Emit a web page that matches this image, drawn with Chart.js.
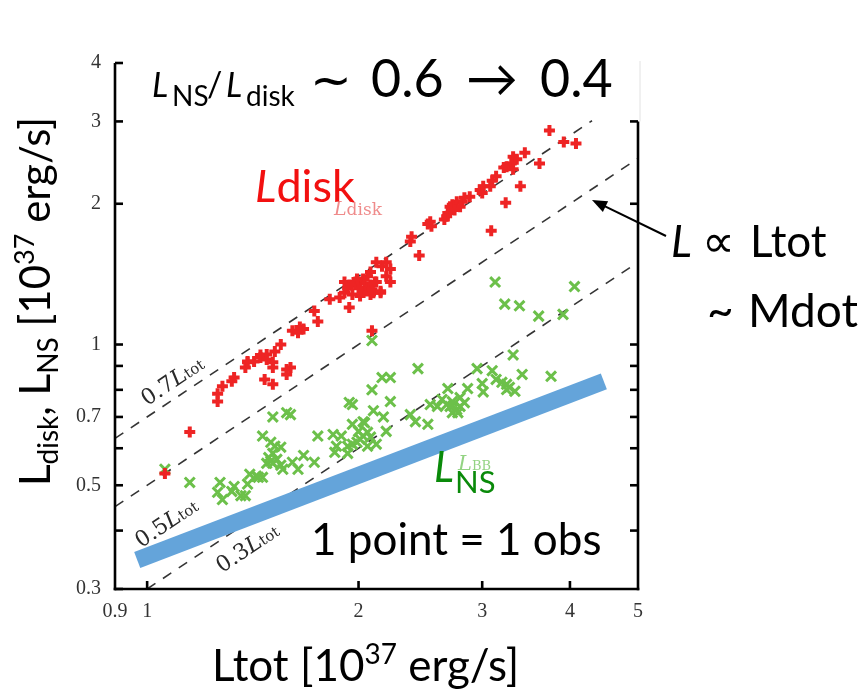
<!DOCTYPE html>
<html>
<head>
<meta charset="utf-8">
<script src="https://cdn.jsdelivr.net/npm/chart.js@4.4.0/dist/chart.umd.min.js"></script>
<style>
  html, body { margin: 0; padding: 0; background: #fff; }
  #wrap { width: 867px; height: 689px; }
</style>
</head>
<body>
<div id="wrap"><canvas id="plot"></canvas></div>
<script>
// disk luminosity vs total luminosity, one point per observation [1e37 erg/s]
const diskPoints = [
  [1.06,0.53],[1.15,0.65],
  [1.26,0.755],[1.26,0.785],[1.28,0.814],[1.32,0.834],[1.33,0.85],
  [1.38,0.893],[1.39,0.916],[1.39,0.92],
  [1.42,0.92],[1.45,0.938],[1.45,0.95],[1.48,0.952],[1.48,0.929],[1.51,0.916],[1.51,0.893],
  [1.52,0.966],[1.55,1.0],[1.47,0.842],[1.51,0.822],
  [1.58,0.884],[1.6,0.893],[1.58,0.863],
  [1.61,1.07],[1.64,1.06],[1.65,1.09],[1.67,1.08],
  [1.73,1.18],[1.75,1.12],
  [1.82,1.25],[1.88,1.26],[1.94,1.2],[1.91,1.29],
  [2.03,1.30],[2.1,1.29],[2.15,1.29],[2.09,1.07],
  [1.91,1.36],[1.94,1.34],[1.98,1.36],[2.01,1.36],[2.04,1.35],[2.08,1.34],[2.11,1.36],
  [1.93,1.32],[2.0,1.32],[2.07,1.32],[2.22,1.36],
  [2.19,1.50],[2.16,1.47],[2.12,1.50],[2.22,1.45],[2.19,1.40],[2.08,1.43],[2.06,1.40],
  [2.03,1.38],[1.99,1.38],[2.12,1.36],[2.09,1.31],[2.15,1.30],[2.08,1.28],[2.01,1.27],[1.96,1.28],
  [2.44,1.55],[2.38,1.70],[2.37,1.66],
  [2.53,1.83],[2.54,1.79],[2.51,1.81],
  [2.88,2.07],[2.83,2.06],[2.81,2.02],[2.76,2.02],[2.72,1.99],[2.70,1.97],[2.68,1.91],
  [2.67,1.88],[2.65,1.85],[2.79,1.97],[2.74,1.94],
  [3.09,1.75],[3.24,2.01],[3.4,2.18],
  [3.14,2.29],[3.10,2.24],[3.08,2.18],[3.01,2.18],[2.98,2.14],[3.0,2.11],
  [3.62,2.44],
  [3.45,2.57],[3.32,2.52],[3.36,2.49],[3.25,2.4],[3.30,2.44],[3.22,2.39],[3.32,2.37],
  [3.74,2.87],[3.92,2.71],[4.08,2.69]
];

// neutron star (blackbody) luminosity vs total luminosity
const nsPoints = [
  [1.06,0.541],[1.15,0.507],
  [1.27,0.507],[1.26,0.483],[1.28,0.466],[1.33,0.497],[1.32,0.485],[1.36,0.475],[1.38,0.475],[1.39,0.503],
  [1.40,0.528],[1.43,0.523],[1.46,0.52],[1.44,0.52],
  [1.46,0.637],[1.50,0.618],[1.52,0.606],[1.55,0.603],[1.51,0.585],[1.49,0.573],[1.53,0.568],
  [1.50,0.563],[1.51,0.557],[1.55,0.552],[1.48,0.557],[1.56,0.541],
  [1.51,0.70],[1.58,0.715],[1.60,0.708],
  [1.61,0.56],[1.64,0.541],[1.67,0.579],[1.73,0.56],[1.75,0.637],
  [1.84,0.642],[1.89,0.637],[1.86,0.606],[1.85,0.588],[1.93,0.585],
  [1.94,0.752],[1.96,0.744],
  [1.96,0.675],[2.03,0.684],[2.0,0.652],[2.06,0.649],[2.03,0.637],[2.08,0.634],[1.99,0.618],
  [1.96,0.612],[2.06,0.606],[1.93,0.606],[2.04,0.68],[2.01,0.627],
  [2.09,0.80],[2.16,0.85],[2.22,0.85],
  [2.22,0.755],[2.10,0.722],[2.17,0.70],[2.19,0.652],[2.12,0.612],
  [2.09,1.02],
  [2.37,0.708],[2.41,0.684],[2.51,0.675],[2.43,0.888],
  [2.53,0.744],[2.59,0.737],[2.63,0.763],[2.67,0.744],[2.70,0.737],[2.72,0.755],[2.76,0.726],
  [2.79,0.737],[2.83,0.751],[2.72,0.715],[2.77,0.715],
  [2.68,0.805],[2.86,0.805],[2.79,0.77],
  [2.95,0.888],[3.0,0.825],[3.01,0.792],[3.10,0.879],[3.14,0.842],[3.2,0.83],[3.25,0.822],
  [3.28,0.81],[3.34,0.794],[3.25,0.801],
  [3.42,0.863],[3.76,0.855],[3.32,0.95],
  [3.13,1.36],[3.23,1.22],[3.39,1.21],[3.61,1.15],[3.91,1.16],[4.06,1.33]
];

// constant-fraction reference lines L = k * Ltot and their Ltot extent
const ratios = [0.7, 0.5, 0.3];
const ratioSpans = [[0.9, 4.3], [0.9, 5], [1, 5]];

// the NS trend band
const trendLtot = [0.968, 4.47];
const trendL = [0.346, 0.834];

// axes
const xTicks = [0.9, 1, 2, 3, 4, 5];
const bottomTicks = [1, 2, 3, 4];
const yTicks = [0.3, 0.4, 0.5, 0.6, 0.7, 0.8, 0.9, 1, 2, 3, 4];
const yTickLabels = [0.3, 0.5, 0.7, 1, 2, 3, 4];
const rightTicks = [0.4, 0.5, 0.6, 0.7, 0.8, 0.9, 1, 2, 3];

const toXY = pts => pts.map(p => ({ x: p[0], y: p[1] }));

function runs(ctx, x, y, parts) {
  let cx = x;
  for (const p of parts) {
    ctx.font = p.font;
    ctx.fillStyle = p.color || '#000';
    ctx.fillText(p.t, cx, y + (p.dy || 0));
    cx += ctx.measureText(p.t).width;
  }
  return cx - x;
}

function runsWidth(ctx, parts) {
  let w = 0;
  for (const p of parts) { ctx.font = p.font; w += ctx.measureText(p.t).width; }
  return w;
}

function seg(ctx, x1, y1, x2, y2) {
  ctx.beginPath(); ctx.moveTo(x1, y1); ctx.lineTo(x2, y2); ctx.stroke();
}

const SANS = 'Lato, "DejaVu Sans"';
const SERIF = '"DejaVu Serif"';

const decorations = {
  id: 'decorations',
  beforeDraw(chart) {
    const ctx = chart.ctx;
    ctx.save();
    ctx.fillStyle = '#fff';
    ctx.fillRect(0, 0, chart.width, chart.height);
    ctx.restore();
  },
  afterDraw(chart) {
    const ctx = chart.ctx;
    const { left, right, top, bottom } = chart.chartArea;
    const xs = chart.scales.x, ys = chart.scales.y;
    ctx.save();

    // frame: left, bottom, right (right side only up to 3)
    ctx.strokeStyle = '#000';
    ctx.lineWidth = 2.6;
    ctx.lineCap = 'butt';
    const r3 = ys.getPixelForValue(3);
    seg(ctx, left, top, left, bottom + 1.3);
    seg(ctx, left - 1.3, bottom, right + 1.3, bottom);
    seg(ctx, right, r3, right, bottom + 1.3);
    yTicks.forEach(v => { const py = ys.getPixelForValue(v); seg(ctx, left, py, left + 8, py); });
    rightTicks.forEach(v => { const py = ys.getPixelForValue(v); seg(ctx, right, py, right - 8, py); });
    bottomTicks.forEach(v => { const px = xs.getPixelForValue(v); seg(ctx, px, bottom, px, bottom - 8); });
    ctx.strokeStyle = '#e2e2e2';
    ctx.lineWidth = 1;
    seg(ctx, right + 2, top - 2, right + 2, r3);

    // labels on the reference lines, rotated along them
    const ang = Math.atan2(ys.getPixelForValue(2) - ys.getPixelForValue(1),
                           xs.getPixelForValue(2) - xs.getPixelForValue(1));
    const lineLabels = [
      { k: '0.7', cx: 172, cy: 380 },
      { k: '0.5', cx: 166, cy: 522 },
      { k: '0.3', cx: 247, cy: 547 }
    ];
    lineLabels.forEach(l => {
      const parts = [
        { t: l.k, font: '22px ' + SERIF, color: '#2a2a2a' },
        { t: 'L', font: 'italic 22px ' + SERIF, color: '#2a2a2a' },
        { t: 'tot', font: '15px ' + SERIF, color: '#2a2a2a' }
      ];
      ctx.save();
      ctx.translate(l.cx, l.cy);
      ctx.rotate(ang);
      ctx.textBaseline = 'alphabetic';
      runs(ctx, -runsWidth(ctx, parts) / 2, 8, parts);
      ctx.restore();
    });

    ctx.textBaseline = 'alphabetic';
    ctx.textAlign = 'left';

    // headline ratio
    ctx.fillStyle = '#000';
    ctx.font = 'italic 34px ' + SANS; ctx.fillText('L', 152, 97);
    ctx.font = '28px ' + SANS; ctx.fillText('NS', 172, 106);
    ctx.font = '34px ' + SANS; ctx.fillText('/', 207, 97);
    ctx.font = 'italic 34px ' + SANS; ctx.fillText('L', 226, 97);
    ctx.font = '28px ' + SANS; ctx.fillText('disk', 246, 106);
    ctx.font = '50px "DejaVu Sans"';
    ctx.fillText('~', 310, 97);
    ctx.font = '52px ' + SANS;
    ctx.fillText('0.6', 371, 97);
    ctx.fillText('\u2192', 466, 97);
    ctx.fillText('0.4', 540, 97);

    // disk label
    runs(ctx, 255, 202, [
      { t: 'L', font: 'italic 45px ' + SANS, color: '#f21010' },
      { t: 'disk', font: '45px ' + SANS, color: '#f21010' }
    ]);
    runs(ctx, 334, 215, [
      { t: 'L', font: 'italic 19px ' + SERIF, color: 'rgba(235,110,110,0.8)' },
      { t: 'disk', font: '17px ' + SERIF, color: 'rgba(235,110,110,0.8)' }
    ]);

    // NS label
    ctx.fillStyle = '#0a8a0a';
    ctx.font = 'italic 42px ' + SANS; ctx.fillText('L', 434, 482);
    ctx.font = '31px ' + SANS; ctx.fillText('NS', 455, 493);
    ctx.fillStyle = 'rgba(120,200,100,0.8)';
    ctx.font = 'italic 21px ' + SERIF; ctx.fillText('L', 458, 470);
    ctx.font = '13px ' + SERIF; ctx.fillText('BB', 472, 470);

    // note
    ctx.fillStyle = '#000';
    ctx.font = '44px ' + SANS;
    ctx.fillText('1 point = 1 obs', 311, 555);

    // proportionality note with arrow
    ctx.font = 'italic 44px ' + SANS; ctx.fillText('L', 671, 257);
    ctx.font = '46px "DejaVu Sans"'; ctx.fillText('\u221D', 702, 257);
    ctx.font = '44px ' + SANS; ctx.fillText('Ltot', 750, 257);
    ctx.font = '46px ' + SANS;
    ctx.fillText('~', 707, 327);
    ctx.fillText('Mdot', 748, 327);

    ctx.strokeStyle = '#000';
    ctx.lineWidth = 2;
    const ax = 592, ay = 200, bx = 666, by = 236;
    const a = Math.atan2(by - ay, bx - ax);
    seg(ctx, bx, by, ax + 10 * Math.cos(a), ay + 10 * Math.sin(a));
    ctx.beginPath();
    ctx.moveTo(ax, ay);
    ctx.lineTo(ax + 15 * Math.cos(a) - 6 * Math.sin(a), ay + 15 * Math.sin(a) + 6 * Math.cos(a));
    ctx.lineTo(ax + 15 * Math.cos(a) + 6 * Math.sin(a), ay + 15 * Math.sin(a) - 6 * Math.cos(a));
    ctx.closePath();
    ctx.fill();

    // axis titles
    ctx.fillStyle = '#000';
    runs(ctx, 212, 681, [
      { t: 'Ltot [10', font: '44px ' + SANS },
      { t: '37', font: '28px ' + SANS, dy: -17 },
      { t: ' erg/s]', font: '44px ' + SANS }
    ]);
    ctx.save();
    ctx.translate(50, 486);
    ctx.rotate(-Math.PI / 2);
    runs(ctx, 0, 0, [
      { t: 'L', font: '42px ' + SANS },
      { t: 'disk', font: '28px ' + SANS, dy: 8 },
      { t: ', L', font: '42px ' + SANS },
      { t: 'NS', font: '28px ' + SANS, dy: 8 },
      { t: ' [10', font: '42px ' + SANS },
      { t: '37', font: '27px ' + SANS, dy: -16 },
      { t: ' erg/s]', font: '42px ' + SANS }
    ]);
    ctx.restore();

    ctx.restore();
  }
};

const refLines = ratios.map((k, i) => ({
  type: 'line',
  data: ratioSpans[i].map(x => ({ x: x, y: k * x })),
  borderColor: 'rgba(30,30,30,0.9)',
  borderWidth: 1.6,
  borderDash: [10, 9],
  pointRadius: 0,
  order: 3
}));

new Chart(document.getElementById('plot'), {
  type: 'scatter',
  data: {
    datasets: [
      {
        data: toXY(diskPoints),
        pointStyle: 'cross',
        pointRadius: 5.5,
        pointBorderWidth: 4,
        pointBorderColor: '#ee2424',
        pointBackgroundColor: '#ee2424',
        order: 0
      },
      {
        data: toXY(nsPoints),
        pointStyle: 'crossRot',
        pointRadius: 7,
        pointBorderWidth: 3,
        pointBorderColor: '#6cc04a',
        pointBackgroundColor: '#6cc04a',
        order: 1
      },
      {
        type: 'line',
        data: trendLtot.map((x, i) => ({ x: x, y: trendL[i] })),
        borderColor: '#64a4da',
        borderWidth: 17,
        borderCapStyle: 'butt',
        pointRadius: 0,
        order: 2
      },
      ...refLines
    ]
  },
  options: {
    responsive: true,
    maintainAspectRatio: false,
    animation: false,
    events: [],
    layout: { padding: { left: 55, right: 229, top: 63, bottom: 70 } },
    plugins: { legend: { display: false }, tooltip: { enabled: false } },
    scales: {
      x: {
        type: 'logarithmic',
        min: 0.9,
        max: 5,
        afterBuildTicks: s => { s.ticks = xTicks.map(v => ({ value: v })); },
        afterFit: s => { s.height = 30; },
        grid: { display: false },
        border: { display: false },
        ticks: {
          autoSkip: false,
          maxRotation: 0,
          padding: 3,
          color: '#333',
          font: { family: 'Liberation Serif', size: 20 },
          callback: v => String(v)
        }
      },
      y: {
        type: 'logarithmic',
        min: 0.3,
        max: 4,
        afterBuildTicks: s => { s.ticks = yTicks.map(v => ({ value: v })); },
        afterFit: s => { s.width = 60; },
        grid: { display: false },
        border: { display: false },
        ticks: {
          autoSkip: false,
          padding: 6,
          color: '#333',
          font: { family: 'Liberation Serif', size: 20 },
          callback: v => yTickLabels.includes(v) ? String(v) : ''
        }
      }
    }
  },
  plugins: [decorations]
});
</script>
</body>
</html>
